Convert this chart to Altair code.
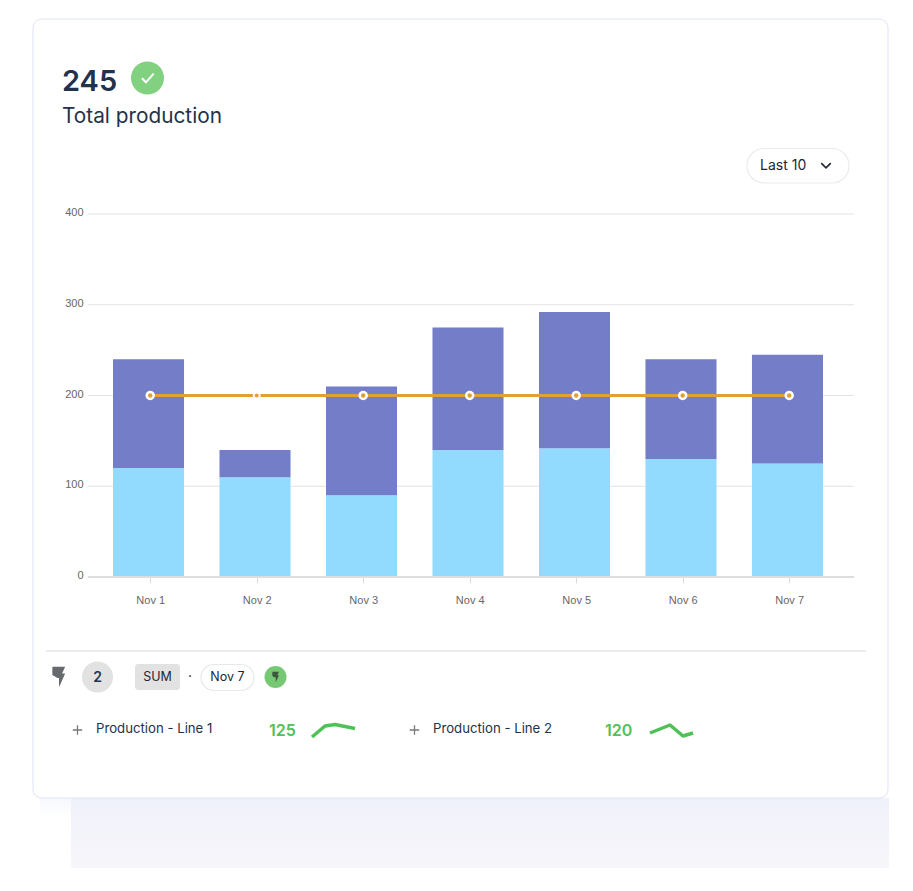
import altair as alt
import pandas as pd

# ---- chart values ----
days = ["Nov 1", "Nov 2", "Nov 3", "Nov 4", "Nov 5", "Nov 6", "Nov 7"]
line1 = [120, 110, 90, 140, 142, 130, 125]
line2 = [120, 30, 120, 135, 150, 110, 120]
target = [200, 200, 200, 200, 200, 200, 200]
y_ticks = [0, 100, 200, 300, 400]
spark1_x = [0, 13, 23, 43]
spark1_y = [0, 11, 12.5, 8.5]
spark2_x = [0, 20, 33, 43]
spark2_y = [3, 11, 0, 3]
kpi_value = "245"
kpi_label = "Total production"
dropdown = "Last 10"
count_label = "2"
agg_label = "SUM"
date_label = "Nov 7"
series_names = ["Production - Line 1", "Production - Line 2"]
series_now = ["125", "120"]

FONT = "Inter"
AXIS_FONT = "Liberation Sans"
INK = "#23324a"
GREEN = "#4fc156"
L, T = 88, 214   # plot origin in page pixels
W, H = 766, 363
SHIFT = 1.7
one = alt.Data(values=[{"a": 1}])


def px(v):
    return alt.value(v - L)


def py(v):
    return alt.value(v - T)


def box(x0, x1, y0, y1, **kw):
    return alt.Chart(one).mark_rect(**kw).encode(x=px(x0), x2=px(x1), y=py(y0), y2=py(y1))


def label(s, x, y, size, color=INK, weight=400, align="left", font=FONT):
    return alt.Chart(one).mark_text(
        align=align, baseline="middle", fontSize=size, color=color, fontWeight=weight, font=font
    ).encode(x=px(x), y=py(y), text=alt.value(s))


def dot(x, y, r, color, **kw):
    return alt.Chart(one).mark_point(filled=True, shape="circle", size=4 * r * r, color=color, opacity=1, **kw).encode(x=px(x), y=py(y))


def glyph(path, x, y, size, **kw):
    return alt.Chart(one).mark_point(shape=path, size=size, opacity=1, **kw).encode(x=px(x), y=py(y))


# ---- frame ----
band = box(71, 889, 798, 868, color=alt.LinearGradient(
    gradient="linear", x1=0, x2=0, y1=0, y2=1,
    stops=[alt.GradientStop(offset=0, color="#eff1fa"), alt.GradientStop(offset=1, color="#f7f6fb")]))
soft = box(40, 71, 798, 818, color=alt.LinearGradient(
    gradient="linear", x1=0, x2=0, y1=0, y2=1,
    stops=[alt.GradientStop(offset=0, color="#f6f8fe"), alt.GradientStop(offset=1, color="#ffffff")]))
card = box(33, 888, 19, 798, fillOpacity=0, stroke="#dfe4f7", strokeWidth=1, cornerRadius=9)
divider = alt.Chart(one).mark_rule(color="#e6e6e6", strokeWidth=1.5).encode(x=px(46), x2=px(866), y=py(651))

# ---- main plot ----
bars_df = pd.DataFrame(
    [{"day": d, "series": "Line 1", "rank": 0, "value": v} for d, v in zip(days, line1)]
    + [{"day": d, "series": "Line 2", "rank": 1, "value": v} for d, v in zip(days, line2)]
)
line_df = pd.DataFrame({"day": days, "target": target})
grid_df = pd.DataFrame({"tick": y_ticks[1:]})

x_enc = alt.X("day:N", sort=days, title=None, scale=alt.Scale(range=[25, 735], paddingInner=0.333, paddingOuter=0),
              axis=alt.Axis(domain=False, labelAngle=0, tickColor="#d9d9d9", tickSize=6, labelPadding=11,
                            tickOffset=SHIFT,
                            labelFont=AXIS_FONT, labelFontSize=11, labelColor="#666666", grid=False))
y_scale = alt.Scale(domain=[0, 400])
grid = alt.Chart(grid_df).mark_rule(color="#e3e3e3", strokeWidth=1.2).encode(
    x=alt.value(0), x2=alt.value(W),
    y=alt.Y("tick:Q", title=None, scale=y_scale,
            axis=alt.Axis(values=y_ticks, domain=False, ticks=False, grid=False, labelOffset=-1.5,
                          labelFont=AXIS_FONT, labelFontSize=11, labelColor="#666666", labelPadding=5)),
)
bars = alt.Chart(bars_df).mark_bar(cornerRadius=0).encode(
    x=x_enc,
    y=alt.Y("value:Q", stack="zero", title=None, scale=y_scale),
    color=alt.Color("series:N", legend=None, scale=alt.Scale(domain=["Line 1", "Line 2"], range=["#93daff", "#737dc8"])),
    order=alt.Order("rank:Q", sort="ascending"),
)
base_rule = alt.Chart(one).mark_rule(color="#dedede", strokeWidth=2).encode(x=alt.value(0), x2=alt.value(W), y=alt.value(H))
target_y = alt.Y("target:Q", title=None, scale=y_scale)
target_x = alt.X("day:N", sort=days)
target_line = alt.Chart(line_df).mark_line(color="#e0a035", strokeWidth=3, xOffset=SHIFT).encode(x=target_x, y=target_y)
big = line_df[line_df.day != "Nov 2"]
small = line_df[line_df.day == "Nov 2"]


def marker(df, size, color):
    return alt.Chart(df).mark_point(filled=True, shape="circle", size=size, color=color, opacity=1, xOffset=SHIFT).encode(x=target_x, y=target_y)


main = alt.layer(grid, bars, base_rule, target_line,
                 marker(big, 90, "white"), marker(small, 60, "white"),
                 marker(big, 20, "#e0a035"), marker(small, 16, "#e0a035"))

# ---- sparklines ----
spark1 = alt.Chart(pd.DataFrame({"x": spark1_x, "y": spark1_y})).mark_line(color=GREEN, strokeWidth=3.5, strokeJoin="round").encode(
    x=alt.X("x:Q", axis=None, scale=alt.Scale(domain=[0, 43], range=[312 - L, 355 - L])),
    y=alt.Y("y:Q", axis=None, scale=alt.Scale(domain=[0, 12.5], range=[737 - T, 724.5 - T])),
)
spark2 = alt.Chart(pd.DataFrame({"x": spark2_x, "y": spark2_y})).mark_line(color=GREEN, strokeWidth=3.5, strokeJoin="round").encode(
    x=alt.X("x:Q", axis=None, scale=alt.Scale(domain=[0, 43], range=[650 - L, 693 - L])),
    y=alt.Y("y:Q", axis=None, scale=alt.Scale(domain=[0, 11], range=[736 - T, 725 - T])),
)

# ---- furniture ----
CHECK = "M-0.55 0.02 L-0.15 0.42 L0.6 -0.42"
CHEV = "M-1 -0.5 L0 0.5 L1 -0.5"
BOLT = "M-0.6 -1 L0.65 -1 L0.35 -0.35 L0.65 -0.35 L0.05 1 L0.05 0.1 L-0.1 0.1 L-0.6 -0.2 Z"
PLUS = "M-1 0 L1 0 M0 -1 L0 1"

parts = [
    band, soft, card, divider,
    label(kpi_value, 62, 81.5, 29, weight=600),
    dot(147.5, 78, 16.5, "#82d181"),
    glyph(CHECK, 147.5, 78, 420, stroke="white", strokeWidth=2, filled=False),
    label(kpi_label, 62, 117, 20.8),
    box(747, 849, 148.5, 183, fill="white", stroke="#ebebeb", strokeWidth=1.2, cornerRadius=17),
    label(dropdown, 760, 166, 14, color="#1c2638"),
    glyph(CHEV, 826, 165.5, 90, stroke="#1c2638", strokeWidth=1.6, filled=False),
    glyph(BOLT, 58.5, 677, 420, fill="#666a6e", filled=True, strokeWidth=0),
    dot(97.5, 677, 15.5, "#e2e2e2"),
    label(count_label, 97.5, 678, 14, weight=600, align="center"),
    box(135, 180, 664, 690, fill="#e2e2e2", cornerRadius=3),
    label(agg_label, 157.5, 677, 12.5, color="#1c2638", align="center"),
    label("·", 190, 677, 14, color="#1c2638", align="center"),
    box(201, 254, 664.5, 690.5, fill="white", stroke="#e8e8e8", strokeWidth=1.2, cornerRadius=13),
    label(date_label, 227.5, 677, 12.5, color="#1c2638", align="center"),
    dot(275.5, 677, 11, "#76c873"),
    glyph(BOLT, 275.5, 677, 110, fill="#39583c", filled=True, strokeWidth=0),
    glyph(PLUS, 77.5, 730, 90, stroke="#787878", strokeWidth=1.3, filled=False),
    label(series_names[0], 96, 729, 13.2),
    label(series_now[0], 269, 731, 16, color=GREEN, weight=600),
    glyph(PLUS, 414.5, 730, 90, stroke="#787878", strokeWidth=1.3, filled=False),
    label(series_names[1], 433, 729, 13.2),
    label(series_now[1], 605, 731, 16, color=GREEN, weight=600),
]

chart = (
    alt.layer(main, spark1, spark2, *parts)
    .resolve_scale(x="independent", y="independent", color="independent")
    .properties(
        width=W, height=H,
        autosize=alt.AutoSizeParams(type="none"),
        padding={"left": L - 8, "top": T - 8, "right": 43, "bottom": 300},
        background="white",
    )
    .configure_view(stroke=None)
)
chart.save("out.html", embed_options={"renderer": "svg", "actions": False})
